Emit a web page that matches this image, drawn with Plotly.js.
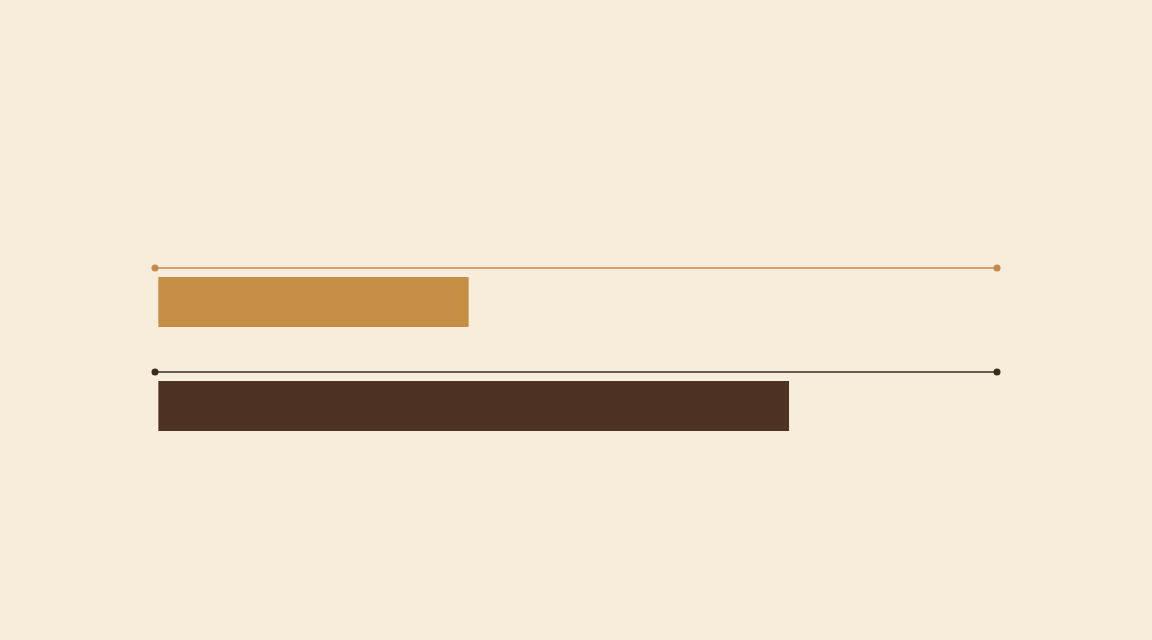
<!DOCTYPE html>
<html>
<head>
<meta charset="utf-8">
<script src="https://cdn.plot.ly/plotly-3.0.1.min.js"></script>
<style>
html,body{margin:0;padding:0;background:#f8eddb}
#chart{width:1152px;height:640px}
</style>
</head>
<body>
<div id="chart"></div>
<script>
// two rows, value out of a full track
let rows=[0,1]
let values=[37,75.2]
let trackMin=[-0.4,-0.4]
let trackMax=[100,100]

let barColors=["#c68e44","#4d3121"]
let lineColors=["#c4894c","#3a2b21"]

let traces=[]

// track line above each bar with a dot at both ends
rows.forEach((r,i)=>{

traces.push({
type:"scatter",
mode:"lines+markers",
x:[trackMin[i],trackMax[i]],
y:[r-0.327,r-0.327],
line:{color:lineColors[i],width:1.6},
marker:{color:lineColors[i],size:7},
cliponaxis:false,
hoverinfo:"skip"
})

})

traces.push({
type:"bar",
orientation:"h",
x:values,
y:rows,
width:0.48,
marker:{color:barColors,line:{width:0}},
hoverinfo:"skip"
})

let layout={
width:1152,
height:640,
paper_bgcolor:"#f8eddb",
plot_bgcolor:"#f8eddb",
showlegend:false,
margin:{l:155,r:155,t:146,b:78},
xaxis:{range:[Math.min(...trackMin),Math.max(...trackMax)],visible:false,showgrid:false,zeroline:false,fixedrange:true},
yaxis:{range:[2.5,-1.5],visible:false,showgrid:false,zeroline:false,fixedrange:true}
}

Plotly.newPlot("chart",traces,layout,{displayModeBar:false,staticPlot:true})
</script>
</body>
</html>
